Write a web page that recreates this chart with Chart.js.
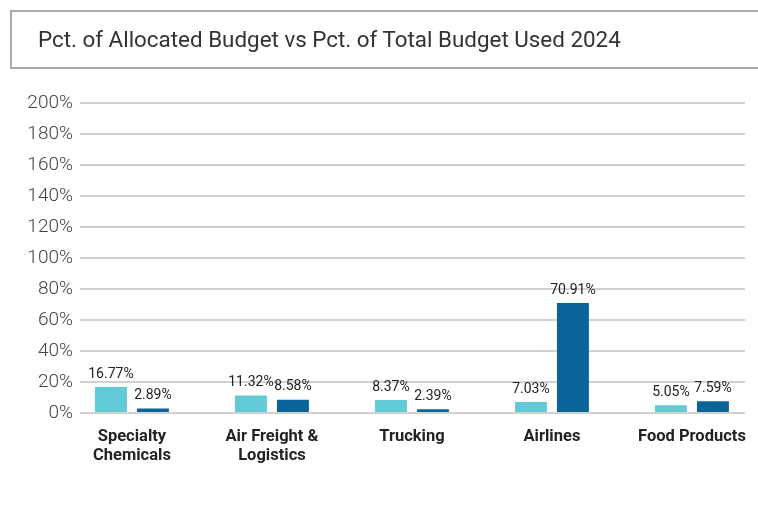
<!DOCTYPE html>
<html>
<head>
<meta charset="utf-8">
<script src="https://cdn.jsdelivr.net/npm/chart.js@4.4.1/dist/chart.umd.min.js"></script>
<style>
  html, body { margin: 0; padding: 0; background: #fff; }
  #wrap { position: relative; width: 758px; height: 518px; overflow: hidden; }
  #title {
    position: absolute; left: 10px; top: 10px; width: 800px; height: 55px;
    border: 2px solid #aaa; box-sizing: content-box;
    font-family: Roboto, sans-serif; font-size: 22.4px; color: #333;
    line-height: 55px; padding-left: 26px;
  }
  #myChart { position: absolute; left: 0; top: 0; }
</style>
</head>
<body>
<div id="wrap">
  <canvas id="myChart" width="758" height="518"></canvas>
  <div id="title">Pct. of Allocated Budget vs Pct. of Total Budget Used 2024</div>
</div>
<script>
// data
const categories = [
    ['Specialty', 'Chemicals'],
    ['Air Freight &', 'Logistics'],
    'Trucking',
    'Airlines',
    'Food Products'
];
const allocatedPct = [16.77, 11.32, 8.37, 7.03, 5.05];
const totalUsedPct = [2.89, 8.58, 2.39, 70.91, 7.59];
const yTicks = [0, 20, 40, 60, 80, 100, 120, 140, 160, 180, 200];

window.addEventListener('DOMContentLoaded', () => {

    // value labels above the bars
    const barLabels = {
        id: 'barLabels',
        afterDatasetsDraw(chart) {
            const ctx = chart.ctx;
            ctx.save();
            ctx.font = '14px Roboto, sans-serif';
            ctx.fillStyle = '#222';
            ctx.textAlign = 'center';
            ctx.textBaseline = 'bottom';
            chart.data.datasets.forEach((ds, di) => {
                chart.getDatasetMeta(di).data.forEach((bar, i) => {
                    ctx.fillText(ds.data[i].y.toFixed(2) + '%', bar.x, bar.y - 6);
                });
            });
            ctx.restore();
        }
    };

    const toPoints = arr => arr.map((v, i) => ({ x: i, y: v }));

    const data = {
        datasets: [{
            label: 'Pct. of Allocated Budget',
            backgroundColor: '#62c9d7',
            data: toPoints(allocatedPct),
            borderWidth: 0,
            categoryPercentage: 0.6,
            barPercentage: 0.76
        }, {
            label: 'Pct. of Total Budget Used',
            backgroundColor: '#0a6399',
            data: toPoints(totalUsedPct),
            borderWidth: 0,
            categoryPercentage: 0.6,
            barPercentage: 0.76
        }]
    };

    const config = {
        type: 'bar',
        data: data,
        options: {
            responsive: false,
            animation: false,
            layout: { padding: { top: 103, right: 13, left: 0, bottom: 0 } },
            plugins: {
                legend: { display: false },
                tooltip: { enabled: false }
            },
            scales: {
                x: {
                    type: 'linear',
                    offset: false,
                    min: -0.371,
                    max: 4.379,
                    grid: { display: false, drawTicks: false, offset: false },
                    border: { display: false },
                    afterBuildTicks: s => { s.ticks = categories.map((c, i) => ({ value: i })); },
                    afterFit: s => { s.height = 105; s.paddingLeft = 0; s.paddingRight = 0; },
                    ticks: {
                        autoSkip: false,
                        maxRotation: 0,
                        padding: 14,
                        color: '#222',
                        font: { family: 'Roboto', size: 16.5, weight: 'bold', lineHeight: 1.15 },
                        callback: v => categories[v]
                    }
                },
                y: {
                    min: 0,
                    max: 200,
                    afterBuildTicks: s => { s.ticks = yTicks.map(v => ({ value: v })); },
                    afterFit: s => { s.width = 80; s.paddingTop = 0; s.paddingBottom = 0; },
                    grid: { color: '#d2d2d2', lineWidth: 2, drawTicks: false },
                    border: { display: false },
                    ticks: {
                        padding: 7,
                        color: '#444',
                        font: { family: 'Roboto', size: 19, weight: '300' },
                        callback: v => v + '%'
                    }
                }
            }
        },
        plugins: [barLabels]
    };

    new Chart(document.getElementById('myChart'), config);
});
</script>
</body>
</html>
